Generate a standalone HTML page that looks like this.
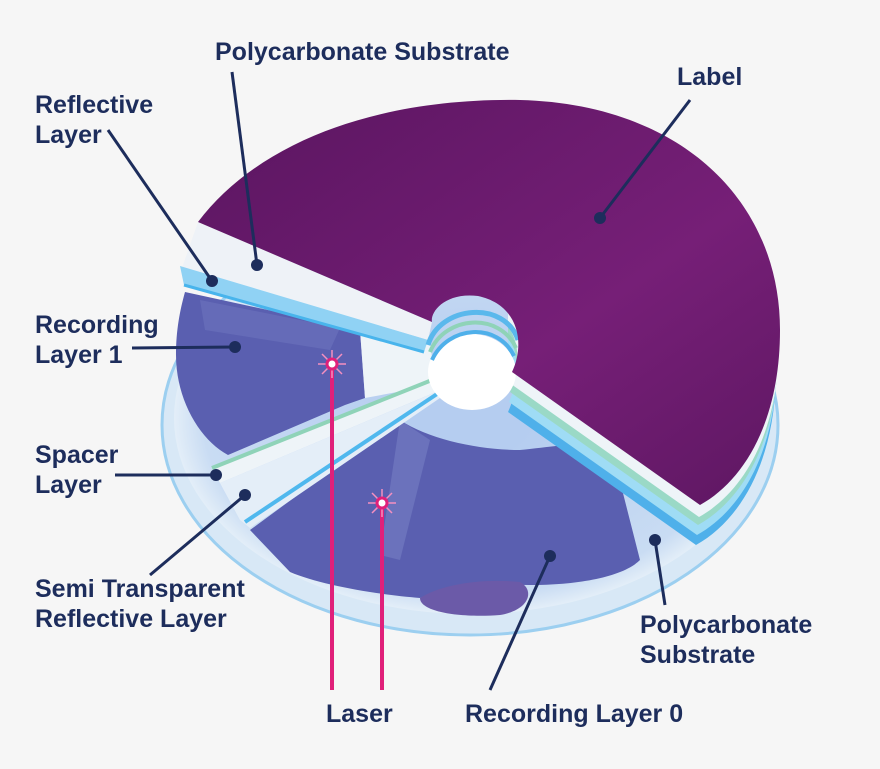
<!DOCTYPE html>
<html><head><style>
html,body{margin:0;padding:0;background:#f6f6f6;}
svg{display:block;}
text{font-family:"Liberation Sans",sans-serif;font-weight:bold;font-size:25px;fill:#1d2d5c;}
</style></head><body>
<svg width="880" height="769" viewBox="0 0 880 769">
<defs>
<linearGradient id="lab" x1="0" y1="0" x2="1" y2="1">
<stop offset="0" stop-color="#5a1560"/><stop offset="0.6" stop-color="#761f77"/><stop offset="1" stop-color="#5e1762"/>
</linearGradient>
<radialGradient id="disc" cx="0.5" cy="0.5" r="0.5">
<stop offset="0.2" stop-color="#b5cdf0"/><stop offset="0.9" stop-color="#c9dcf3"/><stop offset="1" stop-color="#e3eef8"/>
</radialGradient>
<clipPath id="rc"><rect x="508" y="300" width="372" height="300"/></clipPath>
<path id="labp" d="M198,222 C260,140 380,98 520,100 C680,104 780,200 780,330 C780,420 745,480 700,505 L512,372 C525,345 520,305 478,296 C445,292 430,312 432,322 Z"/>
</defs>
<rect width="880" height="769" fill="#f6f6f6"/>
<ellipse cx="470" cy="425" rx="308" ry="210" fill="#d8e8f6" stroke="#9ccff0" stroke-width="3"/>
<ellipse cx="470" cy="418" rx="296" ry="196" fill="url(#disc)"/>
<path d="M250,530 L400,420 C430,440 480,450 520,450 C570,445 600,438 612,450 L640,560 C620,580 560,588 500,584 C470,584 440,590 420,598 C380,595 320,585 290,572 Z" fill="#5a5fb0"/>
<path d="M420,598 C440,585 480,578 520,582 C535,590 530,610 500,615 C460,618 420,612 420,598 Z" fill="#6b5aa8"/>
<path d="M400,420 L430,440 L400,560 L380,555 Z" fill="#7c86c8" opacity="0.5"/>
<path d="M185,292 L360,330 L365,398 L345,405 L228,455 C200,440 176,400 176,355 C176,330 180,310 185,292 Z" fill="#5a5fb0"/>
<path d="M200,300 L340,328 L330,350 L205,330 Z" fill="#7078c0" opacity="0.5"/>
<path d="M360,330 L430,340 L435,385 L365,398 Z" fill="#eef4f8"/>
<path d="M212,468 L432,380 L436,392 L220,483 Z" fill="#eef4f8"/>
<path d="M212,468 L432,380" stroke="#8fd3b8" stroke-width="4"/>
<path d="M220,483 L436,392 L440,398 L250,528 L240,520 Z" fill="#e4eef8"/>
<path d="M245,522 L440,392" stroke="#4fb8ee" stroke-width="4"/>
<path d="M198,222 L432,322 L428,340 L182,268 Z" fill="#eef2f7"/>
<path d="M180,266 L428,340 L424,352 L184,285 Z" fill="#90d2f4"/>
<path d="M184,285 L424,352" stroke="#48b4ec" stroke-width="3"/>
<g clip-path="url(#rc)">
<use href="#labp" transform="translate(-4,40)" fill="#4fb0ea"/>
<use href="#labp" transform="translate(-3,30)" fill="#9fdcf5"/>
<use href="#labp" transform="translate(-2,20)" fill="#9ad9c6"/>
<use href="#labp" transform="translate(-1,12)" fill="#eef4f8"/>
</g>
<ellipse cx="472" cy="372" rx="44" ry="38" fill="#ffffff"/>
<path d="M428,345 C440,305 505,300 518,340" fill="none" stroke="#5ab8ec" stroke-width="5"/>
<path d="M430,352 C445,315 500,312 516,348" fill="none" stroke="#8fd3b8" stroke-width="4"/>
<path d="M432,360 C448,325 498,322 514,356" fill="none" stroke="#4fb0ea" stroke-width="4"/>
<use href="#labp" fill="url(#lab)"/>
<g stroke="#e0207a" stroke-width="4">
<line x1="332" y1="364" x2="332" y2="690"/>
<line x1="382" y1="503" x2="382" y2="690"/>
</g>
<g stroke="#f58fc0" stroke-width="1.5">
<path d="M332,350 V378 M318,364 H346 M322,354 L342,374 M342,354 L322,374"/>
<path d="M382,489 V517 M368,503 H396 M372,493 L392,513 M392,493 L372,513"/>
</g>
<circle cx="332" cy="364" r="5" fill="#fff" stroke="#e0207a" stroke-width="3"/>
<circle cx="382" cy="503" r="5" fill="#fff" stroke="#e0207a" stroke-width="3"/>
<g stroke="#1d2d5c" stroke-width="3" fill="none">
<line x1="232" y1="72" x2="257" y2="265"/>
<line x1="690" y1="100" x2="600" y2="218"/>
<line x1="108" y1="130" x2="212" y2="281"/>
<line x1="132" y1="348" x2="235" y2="347"/>
<line x1="115" y1="475" x2="216" y2="475"/>
<line x1="150" y1="575" x2="245" y2="495"/>
<line x1="490" y1="690" x2="550" y2="556"/>
<line x1="665" y1="605" x2="655" y2="540"/>
</g>
<g fill="#1d2d5c">
<circle cx="257" cy="265" r="6"/><circle cx="600" cy="218" r="6"/><circle cx="212" cy="281" r="6"/>
<circle cx="235" cy="347" r="6"/><circle cx="216" cy="475" r="6"/><circle cx="245" cy="495" r="6"/>
<circle cx="550" cy="556" r="6"/><circle cx="655" cy="540" r="6"/>
</g>
<text x="215" y="60">Polycarbonate Substrate</text>
<text x="677" y="85">Label</text>
<text x="35" y="113">Reflective</text><text x="35" y="143">Layer</text>
<text x="35" y="333">Recording</text><text x="35" y="363">Layer 1</text>
<text x="35" y="463">Spacer</text><text x="35" y="493">Layer</text>
<text x="35" y="597">Semi Transparent</text><text x="35" y="627">Reflective Layer</text>
<text x="326" y="722">Laser</text>
<text x="465" y="722">Recording Layer 0</text>
<text x="640" y="633">Polycarbonate</text><text x="640" y="663">Substrate</text>
</svg>
</body></html>
